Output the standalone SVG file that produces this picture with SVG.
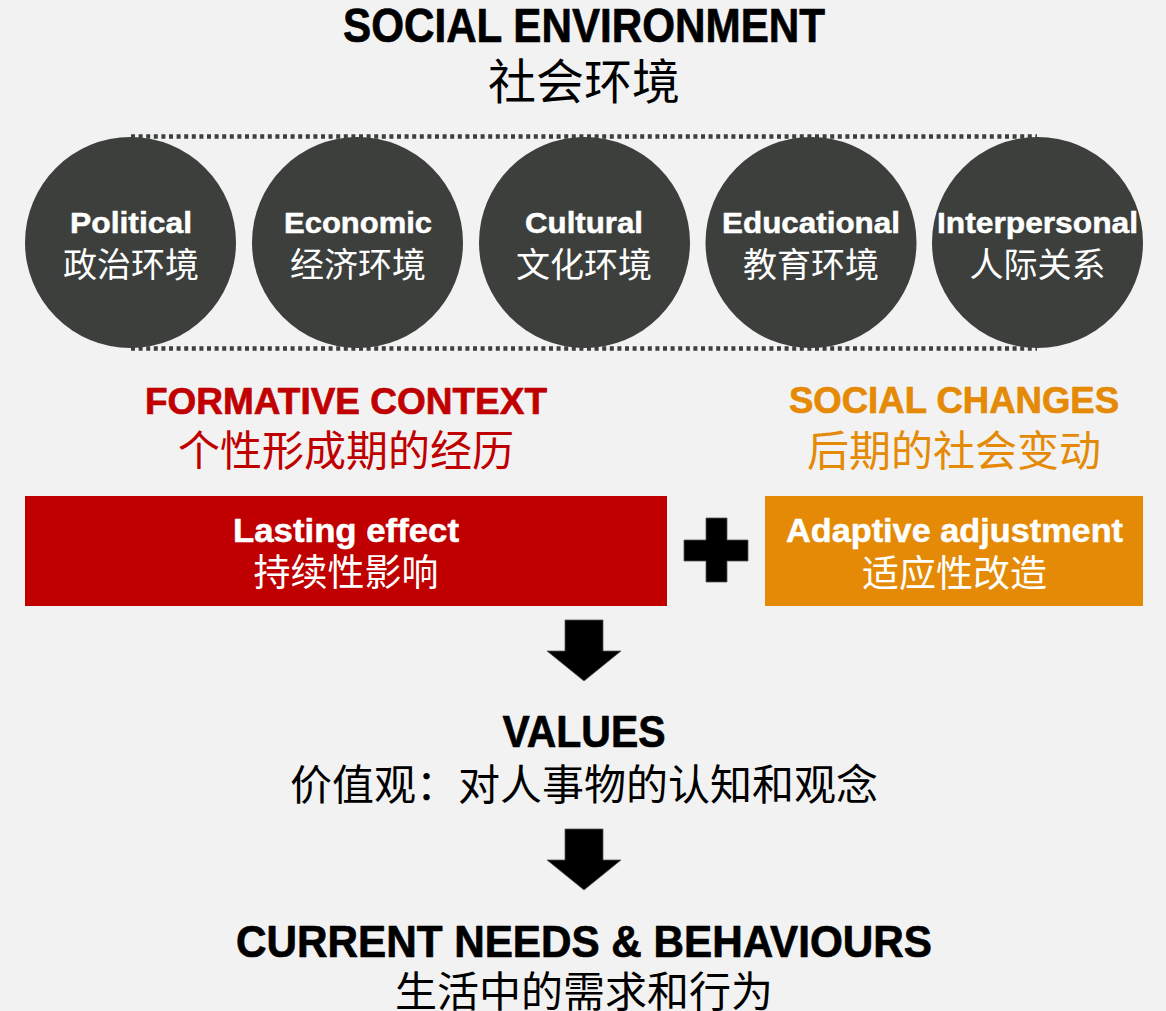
<svg xmlns="http://www.w3.org/2000/svg" width="1166" height="1011" viewBox="0 0 1166 1011">
  <defs>
    <style>
      .lat { font-family: "Liberation Sans", Arial, sans-serif; font-weight: bold; text-anchor: middle; stroke-width: 0.7; stroke-linejoin: round; }
      .cjk { font-family: "Noto Sans CJK SC", "Noto Sans", sans-serif; text-anchor: middle; }
      .ink { fill: #000000; }
      .lat.ink { stroke: #000000; }
      .white { fill: #ffffff; }
      .lat.white { stroke: #ffffff; stroke-width: 0.5; }
      .red { fill: #c00000; }
      .lat.red { stroke: #c00000; }
      .orange { fill: #e48a06; }
      .lat.orange { stroke: #e48a06; }
      .disc { fill: #3c3f3c; }
      .dots { stroke: #3c3f3c; stroke-width: 4.5; stroke-dasharray: 4 3.6; fill: none; }
      .arrow { fill: #000000; stroke: #555555; stroke-width: 0.8; }
    </style>
  </defs>

  <!-- background -->
  <rect x="0" y="0" width="1166" height="1011" fill="#f2f2f2"/>

  <!-- heading -->
  <g id="social-environment">
    <text class="lat ink" x="584" y="42" font-size="48" textLength="482" lengthAdjust="spacingAndGlyphs">SOCIAL ENVIRONMENT</text>
    <text class="cjk ink" x="584" y="99" font-size="48">社会环境</text>
  </g>

  <!-- dotted band behind the five spheres -->
  <g id="band">
    <line class="dots" x1="131" y1="136.5" x2="1037" y2="136.5"/>
    <line class="dots" x1="131" y1="348.5" x2="1037" y2="348.5"/>
  </g>

  <!-- spheres -->
  <g id="political">
    <circle class="disc" cx="130.5" cy="242.5" r="105.5"/>
    <text class="lat white" x="131" y="233" font-size="30" textLength="122" lengthAdjust="spacingAndGlyphs">Political</text>
    <text class="cjk white" x="131" y="277" font-size="34">政治环境</text>
  </g>
  <g id="economic">
    <circle class="disc" cx="357.5" cy="242.5" r="105.5"/>
    <text class="lat white" x="358" y="233" font-size="30" textLength="148" lengthAdjust="spacingAndGlyphs">Economic</text>
    <text class="cjk white" x="358" y="277" font-size="34">经济环境</text>
  </g>
  <g id="cultural">
    <circle class="disc" cx="584.5" cy="242.5" r="105.5"/>
    <text class="lat white" x="584" y="233" font-size="30" textLength="118" lengthAdjust="spacingAndGlyphs">Cultural</text>
    <text class="cjk white" x="584" y="277" font-size="34">文化环境</text>
  </g>
  <g id="educational">
    <circle class="disc" cx="811" cy="242.5" r="105.5"/>
    <text class="lat white" x="811" y="233" font-size="30" textLength="178" lengthAdjust="spacingAndGlyphs">Educational</text>
    <text class="cjk white" x="811" y="277" font-size="34">教育环境</text>
  </g>
  <g id="interpersonal">
    <circle class="disc" cx="1037.5" cy="242.5" r="105.5"/>
    <text class="lat white" x="1037.5" y="233" font-size="30" textLength="201" lengthAdjust="spacingAndGlyphs">Interpersonal</text>
    <text class="cjk white" x="1037.5" y="277" font-size="34">人际关系</text>
  </g>

  <!-- formative context column -->
  <g id="formative-context">
    <text class="lat red" x="346" y="414" font-size="37" textLength="402" lengthAdjust="spacingAndGlyphs">FORMATIVE CONTEXT</text>
    <text class="cjk red" x="346" y="466" font-size="42">个性形成期的经历</text>
  </g>
  <g id="lasting-effect">
    <rect x="25" y="496" width="642" height="110" fill="#c00000"/>
    <text class="lat white" x="346" y="542" font-size="33" textLength="226" lengthAdjust="spacingAndGlyphs">Lasting effect</text>
    <text class="cjk white" x="346" y="586" font-size="37">持续性影响</text>
  </g>

  <!-- social changes column -->
  <g id="social-changes">
    <text class="lat orange" x="954" y="413" font-size="37" textLength="330" lengthAdjust="spacingAndGlyphs">SOCIAL CHANGES</text>
    <text class="cjk orange" x="954" y="466" font-size="42">后期的社会变动</text>
  </g>
  <g id="adaptive-adjustment">
    <rect x="765" y="496" width="378" height="110" fill="#e48a06"/>
    <text class="lat white" x="954.5" y="542" font-size="33" textLength="337" lengthAdjust="spacingAndGlyphs">Adaptive adjustment</text>
    <text class="cjk white" x="954.5" y="587" font-size="37">适应性改造</text>
  </g>

  <!-- plus sign joining the two effects -->
  <g id="plus">
    <path class="arrow" d="M706 518 H727 V540 H748 V561 H727 V582 H706 V561 H684 V540 H706 Z"/>
  </g>

  <!-- outcomes -->
  <g id="values">
    <text class="lat ink" x="584" y="747" font-size="44" textLength="163" lengthAdjust="spacingAndGlyphs">VALUES</text>
    <text class="cjk ink" x="584" y="800" font-size="42">价值观：对人事物的认知和观念</text>
  </g>
  <g id="current-needs">
    <text class="lat ink" x="584" y="957" font-size="44" textLength="696" lengthAdjust="spacingAndGlyphs">CURRENT NEEDS &amp; BEHAVIOURS</text>
    <text class="cjk ink" x="584" y="1007" font-size="42">生活中的需求和行为</text>
  </g>

  <!-- block arrows -->
  <g id="connectors">
    <polygon class="arrow" points="565,620 603,620 603,651 621,651 584,681 547,651 565,651"/>
    <polygon class="arrow" points="565,829 603,829 603,860 621,860 584,890 547,860 565,860"/>
  </g>
</svg>
